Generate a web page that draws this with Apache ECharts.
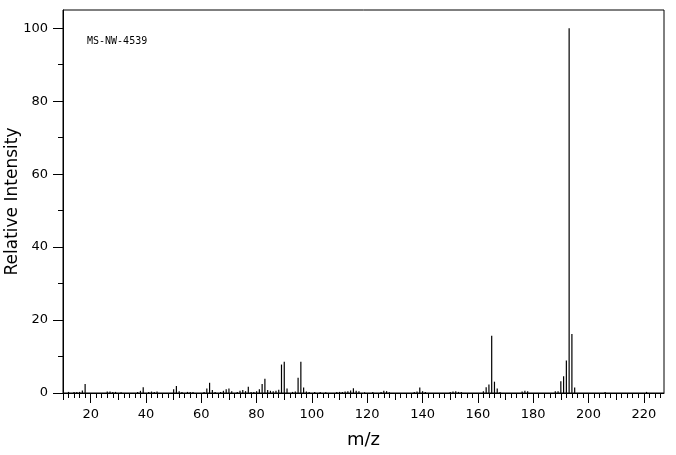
<!DOCTYPE html>
<html>
<head>
<meta charset="utf-8">
<script src="https://cdn.jsdelivr.net/npm/echarts@6/dist/echarts.min.js"></script>
<style>html,body{margin:0;padding:0;background:#fff}#c{width:676px;height:455px}</style>
</head>
<body>
<div id="c"></div>
<script>
// m/z values and relative intensities
const mzValues = [12,14,15,16,17,18,26,27,28,29,31,37,38,39,41,42,43,44,50,51,52,53,55,56,57,61,62,63,64,65,67,68,69,70,71,73,74,75,76,77,78,79,80,81,82,83,84,85,86,87,88,89,90,91,93,94,95,96,97,98,99,101,103,105,109,110,111,112,113,114,115,116,117,119,122,125,126,127,128,137,138,139,140,141,150,151,152,153,154,162,163,164,165,166,167,168,176,177,178,188,189,190,191,192,193,194,195,206,221];
const intensities = [0.3,0.3,0.3,0.3,0.7,2.5,0.4,0.4,0.3,0.3,0.2,0.3,0.6,1.6,0.3,0.4,0.3,0.4,1.0,1.9,0.5,0.3,0.3,0.3,0.3,0.3,1.2,2.8,0.8,0.3,0.3,0.6,1.0,1.2,0.5,0.3,0.6,0.8,0.5,1.7,0.3,0.3,0.5,1.0,2.5,3.9,0.8,0.6,0.5,0.6,0.9,7.8,8.6,1.2,0.3,0.4,4.2,8.6,1.5,0.4,0.3,0.3,0.3,0.2,0.3,0.3,0.3,0.4,0.5,0.7,1.3,0.6,0.5,0.2,0.3,0.3,0.6,0.5,0.2,0.3,0.4,1.5,0.5,0.3,0.3,0.4,0.5,0.3,0.3,0.5,1.6,2.3,15.7,3.1,1.2,0.3,0.4,0.6,0.5,0.5,0.5,3.2,4.6,8.9,100,16.2,1.5,0.3,0.3];

const xMajorTicks = [20,40,60,80,100,120,140,160,180,200,220];
const xMidTicks = [10,30,50,70,90,110,130,150,170,190,210];
const xMinorTicks = [];
for (let v = 12; v <= 226; v += 2) { if (v % 10 !== 0) xMinorTicks.push(v); }
const yMajorTicks = [0,20,40,60,80,100];
const yMinorTicks = [10,30,50,70,90];

const xMin = 10, xMax = 227.3, yMin = 0, yMax = 105;
const sampleName = 'MS-NW-4539';

const chart = echarts.init(document.getElementById('c'), null, {renderer: 'canvas'});
const labelFont = {fontFamily: 'DejaVu Sans', fontSize: 13, color: '#000'};
function hiddenX(ticks, len) {
  return {type: 'value', min: xMin, max: xMax, position: 'bottom',
    axisLine: {show: false}, axisLabel: {show: false}, splitLine: {show: false},
    axisTick: {show: true, customValues: ticks, length: len, lineStyle: {color: '#000', width: 1}}};
}
function hiddenY(ticks, len) {
  return {type: 'value', min: yMin, max: yMax, position: 'left',
    axisLine: {show: false, onZero: false}, axisLabel: {show: false}, splitLine: {show: false},
    axisTick: {show: true, customValues: ticks, length: len, lineStyle: {color: '#000', width: 1}}};
}
chart.setOption({
  animation: false,
  backgroundColor: '#fff',
  grid: {left: 63, right: 12, top: 10, bottom: 62, containLabel: false, outerBoundsMode: 'none',
    show: true, borderColor: '#000', borderWidth: 1, backgroundColor: 'transparent'},
  xAxis: [
    {type: 'value', min: xMin, max: xMax, position: 'bottom',
      name: 'm/z', nameLocation: 'middle', nameGap: 38, nameMoveOverlap: false,
      nameTextStyle: {fontFamily: 'DejaVu Sans', fontSize: 18, color: '#000'},
      axisLine: {show: true, onZero: false, lineStyle: {color: '#000', width: 1}},
      axisTick: {show: true, customValues: xMajorTicks, length: 10, lineStyle: {color: '#000', width: 1}},
      axisLabel: Object.assign({customValues: xMajorTicks, margin: 15}, labelFont),
      splitLine: {show: false}},
    hiddenX(xMidTicks, 7),
    hiddenX(xMinorTicks, 5)
  ],
  yAxis: [
    {type: 'value', min: yMin, max: yMax, position: 'left',
      name: 'Relative Intensity', nameLocation: 'middle', nameGap: 42, nameRotate: 90, nameMoveOverlap: false,
      nameTextStyle: {fontFamily: 'DejaVu Sans', fontSize: 17, color: '#000'},
      axisLine: {show: true, onZero: false, lineStyle: {color: '#000', width: 1}},
      axisTick: {show: true, customValues: yMajorTicks, length: 10, lineStyle: {color: '#000', width: 1}},
      axisLabel: Object.assign({customValues: yMajorTicks, margin: 15}, labelFont),
      splitLine: {show: false}},
    hiddenY(yMinorTicks, 5)
  ],
  graphic: [{type: 'text', left: 87, top: 36, style: {text: sampleName, font: '10px "DejaVu Sans Mono"', fill: '#000'}}],
  series: [{
    type: 'bar', xAxisIndex: 0, yAxisIndex: 0, barWidth: 1.2,
    itemStyle: {color: '#000'},
    data: mzValues.map((m, i) => [m, intensities[i]])
  }]
});
</script>
</body>
</html>
